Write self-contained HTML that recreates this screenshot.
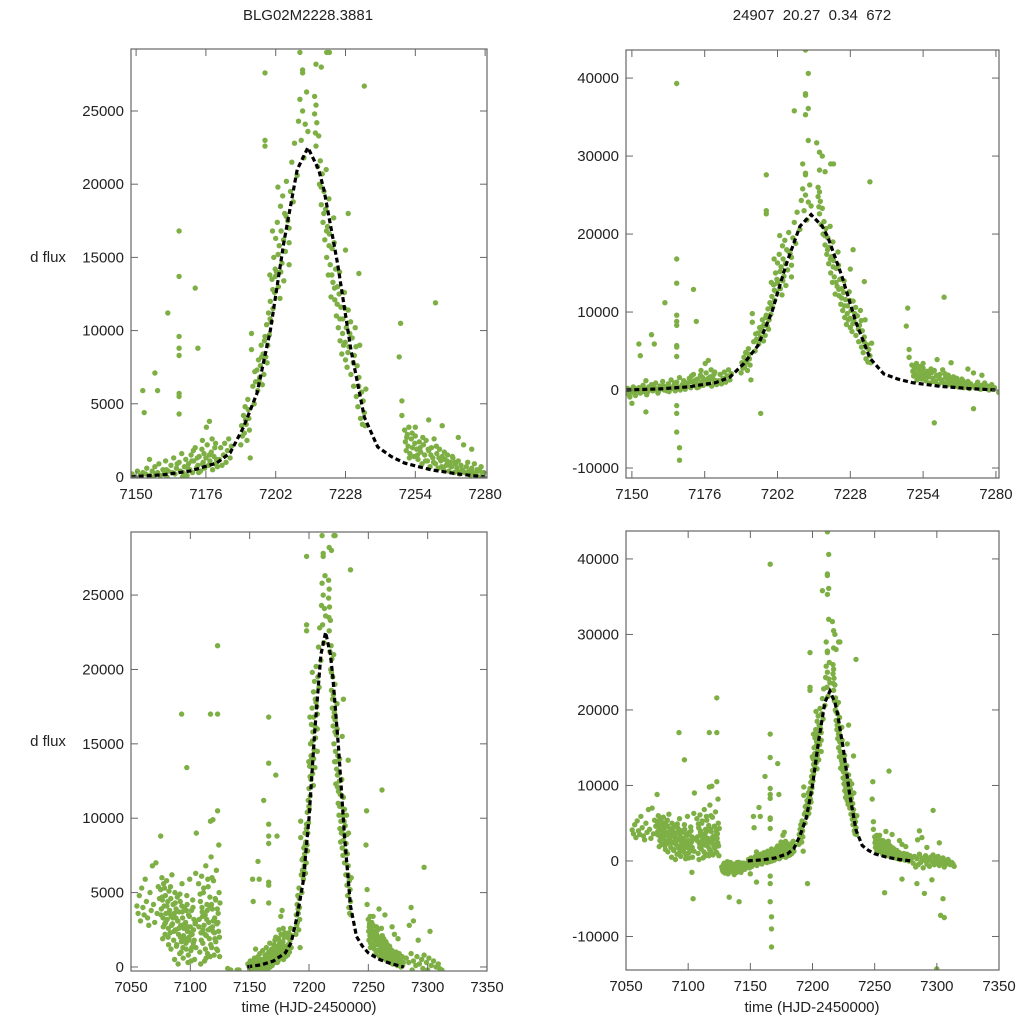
<!DOCTYPE html>
<html><head><meta charset="utf-8"><style>
html,body{margin:0;padding:0;background:#fff;overflow:hidden;width:1024px;height:1024px}
svg{display:block}
svg text{font-family:"Liberation Sans",sans-serif;font-size:15px;fill:#222}
</style></head><body>
<svg id="fig" width="1024" height="1024" viewBox="0 0 1024 1024" xmlns="http://www.w3.org/2000/svg">
<text x="308" y="20" text-anchor="middle">BLG02M2228.3881</text>
<text x="812" y="20" text-anchor="middle" xml:space="preserve">24907  20.27  0.34  672</text>
<text x="48" y="262" text-anchor="middle">d flux</text>
<text x="48" y="746" text-anchor="middle">d flux</text>
<text x="309" y="1012" text-anchor="middle">time (HJD-2450000)</text>
<text x="812" y="1012" text-anchor="middle">time (HJD-2450000)</text>
</svg>
<script>
const seasonEarly = [[7055,4100],[7056,3600],[7057,4800],[7058,3100],[7059,5300],[7060,4000],[7061,3500],[7062,5900],[7063,4400],[7064,3300],[7065,2800],[7066,5000],[7067,3800],[7068,6800],[7069,4200],[7070,3000],[7071,7000],[7072,3600],[7073,5400],[7074,4600],
[7075,5200],[7075.5,3900],[7076,6000],[7076.5,4500],[7077,3300],[7077.5,5600],[7078,4100],[7078.5,2900],[7079,4800],[7079.5,3600],
[7080,5800],[7080.5,3200],[7081,4400],[7081.5,2600],[7082,5100],[7082.5,3800],[7083,2300],[7083.5,4600],[7084,3400],[7084.5,6200],
[7085,2900],[7085.5,4200],[7086,1800],[7086.5,3600],[7087,5000],[7087.5,2500],[7088,3900],[7088.5,1500],[7089,4700],[7089.5,3100],
[7090,2200],[7090.5,3700],[7091,900],[7091.5,4400],[7092,2800],[7092.5,1700],[7093,5600],[7093.5,3300],[7094,600],[7094.5,2600],
[7095,4000],[7095.5,1900],[7096,3000],[7096.5,1200],[7097,4800],[7097.5,2400],[7098,300],[7098.5,3500],[7099,2000],[7099.5,5900],
[7100,2700],[7100.5,1100],[7101,3800],[7101.5,2200],[7102,4500],[7102.5,1600],[7103,3200],[7103.5,500],[7104,2900],[7104.5,6300],
[7075.25,3500],[7076.25,4700],[7077.25,2700],[7078.25,5300],[7079.25,3000],[7080.25,4100],[7081.25,2000],[7082.25,3600],[7083.25,5400],[7084.25,2800],
[7085.25,3300],[7086.25,2400],[7087.25,4300],[7088.25,1400],[7089.25,3100],[7090.25,2600],[7091.25,4900],[7092.25,1000],[7093.25,3700],[7094.25,2100],
[7095.25,2900],[7096.25,1600],[7097.25,4200],[7098.25,800],[7099.25,3400],[7100.25,2300],[7101.25,1300],[7102.25,4000],[7103.25,1800],[7104.25,3000],
[7107,5600],[7107.5,3200],[7108,1000],[7108.5,4400],[7109,2300],[7109.5,6100],[7110,3700],[7110.5,1600],[7111,5000],[7111.5,2800],
[7112,400],[7112.5,3500],[7113,6800],[7113.5,2100],[7114,4200],[7114.5,900],[7115,5400],[7115.5,3000],[7116,1900],[7116.5,4700],
[7117,2600],[7117.5,7400],[7118,1300],[7118.5,3900],[7119,2400],[7119.5,5800],[7120,800],[7120.5,3300],[7121,4600],[7121.5,1700],
[7122,6500],[7122.5,2900],[7123,1100],[7123.5,3600],[7124,8200],[7124.5,2000],[7125,4300],
[7107.25,2700],[7108.25,4900],[7109.25,1800],[7110.25,3400],[7111.25,5300],[7112.25,2200],[7113.25,600],[7114.25,3800],[7115.25,2500],[7116.25,4100],
[7117.25,1500],[7118.25,6000],[7119.25,3100],[7120.25,2300],[7121.25,4500],[7122.25,1200],[7123.25,3000],[7124.25,5000],
[7076.7,1900],[7078.7,2200],[7081.7,1500],[7083.7,1200],[7086.7,500],[7089.7,200],[7091.7,2000],[7093.7,1300],[7096.7,3800],[7098.7,1800],
[7100.7,400],[7102.7,2500],[7104.7,1300],[7108.7,200],[7110.7,2500],[7112.7,1200],[7114.7,5900],[7116.7,700],[7118.7,2700],[7120.7,1900],
[7122.7,3900],[7124.7,700],[7109.8,4000],[7113.8,3200],[7117.8,4200],[7121.8,3000],[7123.8,2400],[7087.8,3300],[7092.8,4100],[7097.8,2700]];
const seasonBaseline = [[7127,-800],[7128,-1400],[7129,-300],[7130,-1100],[7131,-600],[7132,-1700],[7133,-900],[7134,-200],[7135,-1300],[7136,-700],
[7137,-1000],[7138,-400],[7139,-1500],[7140,-800],[7141,-200],[7142,-1200],[7143,-600],[7144,-900],[7145,-300],[7146,-1000],[7147,-500],
[7127.5,-1200],[7128.5,-500],[7129.5,-1600],[7130.5,-800],[7131.5,-100],[7132.5,-1100],[7133.5,-700],[7134.5,-1400],[7135.5,-400],[7136.5,-900],
[7137.5,-1300],[7138.5,-600],[7139.5,-200],[7140.5,-1000],[7141.5,-700],[7142.5,-1500],[7143.5,-300],[7144.5,-800],[7145.5,-1100],[7146.5,-400],
[7148,-300],[7148.5,200],[7149,-600],[7149.5,0],[7150,-200],[7150.5,400],[7151,-500],[7151.5,100],[7152,-100],[7152.5,300],
[7153,-400],[7153.5,200],[7154,600],[7154.5,-200],[7155,100],[7155.5,-300],[7156,400],[7156.5,0],[7157,700],[7157.5,-100],
[7158,300],[7158.5,900],[7159,100],[7159.5,-200],[7160,500],[7160.5,200],[7161,1100],[7161.5,0],[7162,400],[7162.5,-100],
[7163,800],[7163.5,300],[7164,1300],[7164.5,200],[7165,600],[7165.5,-100],[7166,1000],[7166.5,400],[7167,1600],[7167.5,300],
[7168,700],[7168.5,1200],[7169,100],[7169.5,900],[7170,500],[7170.5,1500],[7171,300],[7171.5,1100],[7172,2000],[7172.5,600],
[7173,800],[7173.5,1400],[7174,400],[7174.5,1900],[7175,1000],[7175.5,600],[7176,1300],[7176.5,2200],[7177,800],[7177.5,1100],
[7178,1700],[7178.5,500],[7179,1400],[7179.5,900],[7180,1200],[7176.2,3400],[7177.3,3800],[7178.3,2600],[7179.6,2300],[7174.7,2500],
[7149.3,-900],[7151.3,-700],[7153.3,-300],[7155.3,-600],[7157.3,200],[7159.3,-400],[7161.3,500],[7163.3,-200],[7165.3,900],[7167.3,0],
[7169.3,600],[7171.3,1800],[7173.3,300],[7175.3,1600],[7177.3,1500],[7179.3,2000],[7180.3,700],[7170.8,1100],[7172.8,1300],[7174.8,900]];
const seasonPeak = [[7181,1200],[7181.5,2000],[7182,800],[7182.5,1500],[7183,2300],[7183.5,1000],[7184,1800],[7184.5,2600],[7185,1300],[7185.5,2100],
[7189,2200],[7189.3,3500],[7189.6,2800],[7190,4200],[7190.3,3000],[7190.6,4800],[7191,3600],[7191.3,2500],[7191.6,5300],[7192,4000],
[7192.5,1300],[7193,9800],[7193,8700],[7193.5,6200],[7194,5000],[7194.5,6500],[7195,7300],[7195.3,5900],[7195.6,8000],[7196,6800],
[7196.3,7600],[7196.6,9000],[7197,6300],[7197.3,8400],[7197.6,7000],[7198,9600],[7198.3,8200],[7198.6,10400],[7199,9000],[7199.3,11200],
[7199.6,9700],[7200,12000],[7200.3,10600],[7200.6,13500],[7201,11500],[7201.3,15000],[7201.6,12600],[7202,16300],[7202.3,14000],[7202.6,17400],
[7203,13000],[7203.3,15800],[7203.6,12200],[7204,16800],[7204.3,14600],[7204.6,19200],[7205,13400],[7205.3,18000],[7205.6,15400],[7206,20200],
[7206.5,17500],[7207,14500],[7207,16000],[7207,17000],[7207.5,19500],[7208,21500],[7208.5,18800],[7209,22800],[7210,20600],[7210.5,24300],
[7211,25800],[7211.5,23000],[7212,25000],[7212.5,21800],[7213,24100],[7213.5,26300],[7214,23600],[7216.5,26000],[7216.5,24800],[7216.8,23500],
[7217,25400],[7217,22600],[7217.3,24200],[7217.6,21200],[7218,23300],[7218.3,20000],[7218.6,21600],[7219,18600],[7219.3,20700],[7219.6,17400],
[7220,19500],[7220.3,16200],[7220.6,18300],[7221,15000],[7221.3,17100],[7221.6,13800],[7222,16600],[7222.3,14500],[7222.6,12300],[7223,15600],
[7223.3,13300],[7223.6,17700],[7224,12100],[7224.3,14200],[7224.6,11000],[7225,13000],[7225.3,10200],[7225.6,12500],[7226,9300],[7226.3,11600],
[7226.6,8400],[7227,10800],[7227.3,9000],[7227.6,12600],[7228,8000],[7228.3,10200],[7228.6,7500],[7229,11400],[7229.3,8900],[7229.6,9800],
[7230,7000],[7230.5,9500],[7231,6200],[7231.3,8300],[7231.6,10200],[7232,5500],[7232.3,7600],[7232.6,4800],[7233,6800],[7233.3,9000],
[7233.6,4000],[7234,5800],[7234.3,3600],[7234.6,5200],[7235,4400],[7235.3,3500],[7235.6,6000],
[7202.8,19800],[7203.8,18500],[7201.8,14200],[7200.8,16800],[7199.8,13800],[7221.8,19000],[7220.8,21000],[7223.8,16000],[7225.8,14000],[7227.8,11500],
[7190.8,3900],[7191.8,4600],[7192.2,3200],[7194.2,7200],[7195.8,6600],[7196.8,8200],[7197.8,9300],[7198.8,7800],[7199.9,10800],[7200.9,12800],
[7201.9,13700],[7202.9,15200],[7203.9,14000],[7204.9,16200],[7205.9,17800],[7218.9,19800],[7219.9,18000],[7220.9,16800],[7221.9,15800],[7222.9,13800],
[7223.9,12900],[7224.9,11800],[7225.9,10800],[7226.9,9800],[7227.9,9200],[7228.9,8500],[7229.9,10600],[7230.9,7800],[7231.9,8900],[7232.9,6200]];
const seasonLate = [[7250,3200],[7250.3,2400],[7250.6,1800],[7251,2900],[7251.3,2100],[7251.6,3400],[7252,1600],[7252.5,2600],[7253,2000],[7253.5,1400],
[7254,2800],[7254.5,1900],[7255,1200],[7255.5,2400],[7256,1700],[7256.5,900],[7257,2200],[7257.5,1500],[7258,2500],[7258.5,1100],
[7259,1800],[7259.5,700],[7260,2000],[7260.5,1300],[7261,2600],[7261.5,900],[7262,1600],[7262.5,600],[7263,1900],[7263.5,1100],
[7264,1400],[7264.5,500],[7265,1200],[7265.5,800],[7266,1500],[7266.5,400],[7267,1000],[7267.5,700],[7268,1300],[7268.5,300],
[7269,900],[7269.5,600],[7270,1100],[7270.5,200],[7271,800],[7271.5,500],[7272,2200],[7272.5,300],[7273,700],[7273.5,1000],
[7274,400],[7274.5,100],[7275,600],[7275.5,300],[7276,900],[7276.5,200],[7277,500],[7277.5,0],[7278,400],[7278.5,700],
[7279,100],[7279.5,300],
[7250.8,2700],[7251.8,1300],[7252.8,3000],[7253.8,2300],[7254.8,1500],[7255.8,2000],[7256.8,2700],[7257.8,1100],[7258.8,1900],[7259.8,1500],
[7260.8,1000],[7261.8,2100],[7262.8,1300],[7263.8,700],[7264.8,1700],[7265.8,1100],[7266.8,800],[7267.8,1400],[7268.8,1000],[7269.8,400],
[7281,-300],[7282,600],[7283,-800],[7284,300],[7285,-500],[7286,900],[7287,-200],[7288,400],[7289,-900],[7290,100],
[7291,700],[7292,-400],[7293,200],[7294,-700],[7295,500],[7296,-100],[7297,800],[7298,-500],[7299,300],[7300,-200],
[7301,600],[7302,-600],[7303,100],[7304,-300],[7305,400],[7306,-800],[7307,0],[7308,-400],[7309,200],[7310,-100],
[7311,-500],[7312,-200],[7313,-400],[7314,-700]];
const outliers = [[7152.5,5900],[7153,4400],[7155,1200],[7166,16800],[7166,13700],[7166,9600],[7166,8800],[7166,8300],[7166,5700],[7166,5500],[7166,4300],
[7166,39300],[7166,-2000],[7166,-3000],[7166,-5400],[7167,-7400],[7167,-9000],[7167,-11400],[7161.8,11200],[7172,12900],[7173,8800],[7157,7100],[7158,5900],
[7198,27600],[7198,23000],[7198,22600],[7211,29000],[7212,27800],[7212,27600],[7217,28200],[7219,28000],[7222,29000],[7235,26700],[7229,18000],[7228,15500],[7233,13900],
[7212,43600],[7213,40600],[7212,38000],[7212,37800],[7213,36100],[7212,35300],[7208,35800],[7213,32000],[7216,31700],[7217,30500],[7218,30000],[7221,29000],
[7196,-3000],[7272,-2400],[7258,-4200],[7104,-5000],[7103,-1500],[7137,-1800],[7133,-4800],[7141,-5400],[7155,-2800],[7150,-1700],
[7092.6,17000],[7097,13400],[7117,17000],[7123,17000],[7123,21600],[7117,9800],[7119,9900],[7123,10500],[7105,9000],[7075,8800],
[7248,8200],[7248.5,10500],[7249,5200],[7249,4200],[7261.5,11900],[7259,3900],[7270,2700],[7275,1900],[7264,3500],[7254,3400],
[7284.5,2800],[7286,4000],[7288,3100],[7297,6700],[7284,-3000],[7290,-4300],[7303,-7200],[7305,-5000],[7306,-7500],[7300,-14300],[7292,1800],[7296,-2500],[7302,2400]];
const modelTime = [7148,7150,7160,7170,7180,7185,7190,7195,7200,7205,7210,7214,7218,7220,7225,7230,7235,7240,7245,7250,7260,7270,7280];
const modelFlux = [0,30,150,400,950,1640,3400,5700,10000,16000,21000,22500,21000,19600,14600,8700,4100,2050,1400,950,480,200,0];
const xTicksTop = [7150,7176,7202,7228,7254,7280];
const xTicksBottom = [7050,7100,7150,7200,7250,7300,7350];
const yTicksSmall = [0,5000,10000,15000,20000,25000];
const yTicksLarge = [-10000,0,10000,20000,30000,40000];

const NS='http://www.w3.org/2000/svg';
const svg=document.getElementById('fig');
function mk(tag,attrs,parent){const e=document.createElementNS(NS,tag);for(const k in attrs)e.setAttribute(k,attrs[k]);(parent||svg).appendChild(e);return e;}
const panels=[
 {id:'top-left',L:131,R:487,T:49,B:478,x0:7148.1,x1:7280.7,y0:-70,y1:29235,xt:xTicksTop,yt:yTicksSmall},
 {id:'top-right',L:626,R:999,T:50,B:478,x0:7147.9,x1:7281.1,y0:-11280,y1:43600,xt:xTicksTop,yt:yTicksLarge},
 {id:'bottom-left',L:131,R:487,T:532,B:971,x0:7050,x1:7350,y0:-270,y1:29240,xt:xTicksBottom,yt:yTicksSmall},
 {id:'bottom-right',L:626,R:999,T:531,B:970,x0:7050,x1:7350,y0:-14440,y1:43700,xt:xTicksBottom,yt:yTicksLarge}];
const allObs=[].concat(seasonEarly,seasonBaseline,seasonPeak,seasonLate,outliers);
panels.forEach(p=>{
 const sx=t=>p.L+(t-p.x0)/(p.x1-p.x0)*(p.R-p.L);
 const sy=f=>p.B-(f-p.y0)/(p.y1-p.y0)*(p.B-p.T);
 const g=mk('g',{});
 
 
 const cp=mk('clipPath',{id:'clip-'+p.id},g);
 mk('rect',{x:p.L,y:p.T,width:p.R-p.L,height:p.B-p.T},cp);
 const pts=mk('g',{'clip-path':'url(#clip-'+p.id+')',fill:'#7daf45'},g);
 
 
 allObs.forEach(o=>{
  if(o[0]<p.x0||o[0]>p.x1||o[1]<p.y0||o[1]>p.y1) return;
  const c=mk('circle',{cx:sx(o[0]).toFixed(1),cy:sy(o[1]).toFixed(1),r:2.7},pts);
  
  
 });
 const d=modelTime.map((t,i)=>(i?'L':'M')+sx(t).toFixed(1)+','+sy(modelFlux[i]).toFixed(1)).join('');
 const ln=mk('path',{d:d,fill:'none',stroke:'#000','stroke-width':3.2,'stroke-dasharray':'5,3','clip-path':'url(#clip-'+p.id+')'},g);
 
 
 const fr=mk('rect',{x:p.L,y:p.T,width:p.R-p.L,height:p.B-p.T,fill:'none',stroke:'#666','stroke-width':1.2},g);
 
 
 p.xt.forEach(t=>{
  const x=sx(t);
  mk('line',{x1:x,x2:x,y1:p.B,y2:p.B-7,stroke:'#666'},g);
  mk('line',{x1:x,x2:x,y1:p.T,y2:p.T+7,stroke:'#666'},g);
  const tx=mk('text',{x:x,y:p.B+21,'text-anchor':'middle'},g);
  tx.textContent=t;
  
  
 });
 p.yt.forEach(v=>{
  const y=sy(v);
  mk('line',{x1:p.L,x2:p.L+7,y1:y,y2:y,stroke:'#666'},g);
  mk('line',{x1:p.R,x2:p.R-7,y1:y,y2:y,stroke:'#666'},g);
  const tx=mk('text',{x:p.L-7,y:y+5,'text-anchor':'end'},g);
  tx.textContent=v;
  
  
 });
});
</script>
</body></html>
